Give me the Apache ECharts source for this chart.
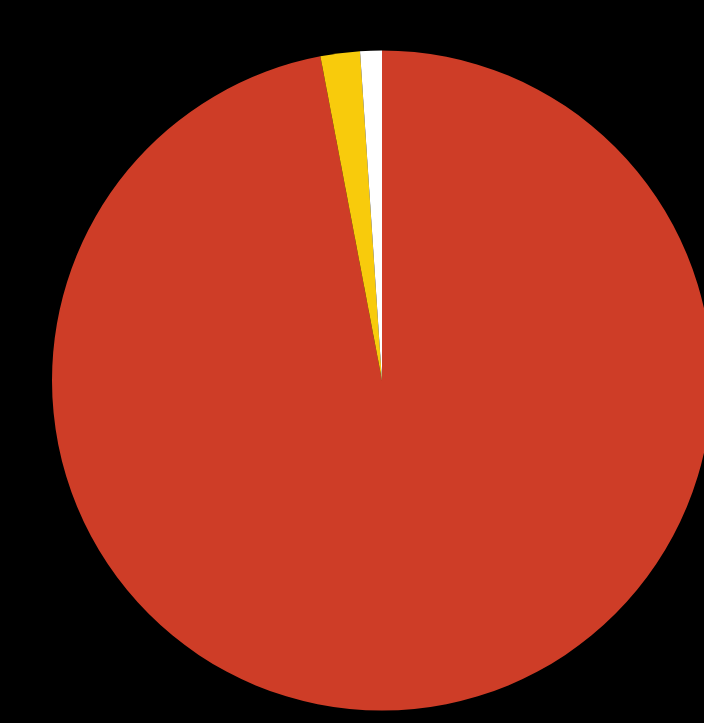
<!DOCTYPE html>
<html><head><meta charset="utf-8">
<style>html,body{margin:0;padding:0;background:#000;}#c{width:704px;height:723px;}</style>
<script src="https://cdn.jsdelivr.net/npm/echarts@6/dist/echarts.min.js"></script>
</head><body><div id="c"></div>
<script>
const categories = ['A', 'B', 'C'];
const values = [97.01, 1.93, 1.06];
const colors = ['#CE3D27', '#F8CB0C', '#FFFFFF'];
const chart = echarts.init(document.getElementById('c'));
chart.setOption({
  backgroundColor: '#000000',
  animation: false,
  series: [{
    type: 'pie',
    center: [382, 380.5],
    radius: [0, 330],
    startAngle: 90,
    clockwise: true,
    label: {show: false},
    labelLine: {show: false},
    itemStyle: {borderWidth: 0},
    data: categories.map((c, i) => ({name: c, value: values[i], itemStyle: {color: colors[i]}}))
  }]
});
</script></body></html>
